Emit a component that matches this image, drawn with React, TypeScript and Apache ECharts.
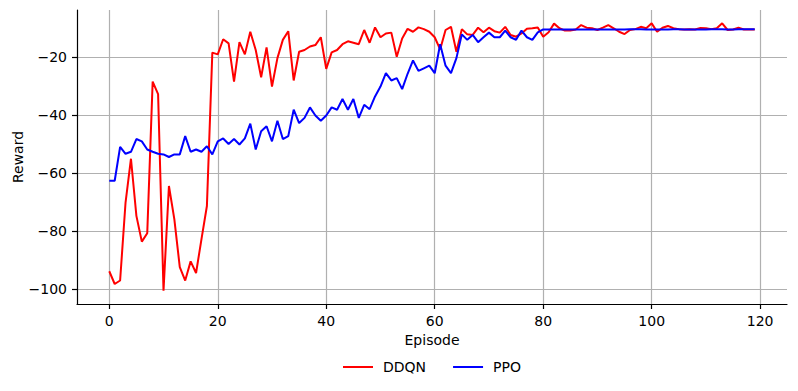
import React, { useEffect, useRef } from "react";
import * as echarts from "echarts";

const xTicks = [0, 20, 40, 60, 80, 100, 120];
const yTicks = [-100, -80, -60, -40, -20];

const ddqn = [
  -93.8, -98.2, -97.0, -70.1, -55.0, -74.7, -83.6, -80.7, -28.4, -32.7,
  -100.5, -64.4, -75.9, -92.4, -97.0, -90.4, -94.4, -82.7, -71.3, -18.4,
  -19.0, -13.8, -15.2, -28.4, -14.8, -19.0, -11.2, -17.5, -26.9, -16.6,
  -30.1, -20.3, -14.0, -11.0, -28.0, -18.1, -17.5, -16.3, -15.8, -13.1,
  -24.0, -18.3, -17.5, -15.5, -14.5, -15.0, -15.5, -10.6, -15.0, -9.7,
  -13.1, -11.8, -11.5, -19.8, -13.5, -10.2, -11.2, -9.7, -10.3, -11.2,
  -13.1, -17.3, -10.6, -9.5, -18.1, -10.3, -12.1, -12.3, -9.8, -11.4,
  -9.8, -11.0, -11.5, -9.5, -12.3, -12.9, -11.8, -10.2, -10.0, -9.7,
  -12.9, -11.4, -8.4, -10.0, -10.8, -10.8, -10.4, -8.9, -9.8, -10.0,
  -10.6, -9.8, -8.9, -10.0, -11.2, -12.0, -10.6, -10.3, -9.5, -10.0,
  -8.3, -11.2, -9.8, -9.2, -10.0, -10.3, -10.4, -10.3, -10.4, -9.9,
  -10.0, -10.3, -10.0, -8.3, -10.6, -10.4, -9.8, -10.4, -10.4, -10.4,
];

const ppo = [
  -62.6, -62.6, -50.9, -53.3, -52.6, -48.2, -49.0, -51.8, -52.6, -53.3,
  -53.5, -54.4, -53.5, -53.5, -47.2, -52.6, -51.8, -52.6, -50.7, -53.5,
  -49.0, -48.0, -49.9, -48.2, -50.1, -48.0, -42.9, -51.8, -45.5, -43.8,
  -49.0, -41.9, -48.2, -47.2, -38.1, -42.7, -40.9, -37.3, -40.1, -41.9,
  -40.1, -37.3, -38.1, -34.4, -38.1, -34.4, -40.9, -36.4, -37.9, -33.5,
  -30.1, -25.5, -28.0, -27.2, -31.0, -25.7, -21.1, -24.7, -23.8, -22.9,
  -25.5, -15.5, -22.9, -25.5, -20.3, -12.1, -14.0, -12.3, -14.8, -13.1,
  -11.5, -13.1, -13.1, -10.8, -13.1, -14.0, -10.8, -13.1, -14.0, -11.4,
  -10.4, -10.4, -10.4, -10.4, -10.4, -10.4, -10.4, -10.4, -10.4, -10.4,
  -10.4, -10.4, -10.4, -10.4, -10.4, -10.4, -10.3, -10.3, -10.3, -10.4,
  -10.4, -10.4, -10.4, -10.4, -10.3, -10.3, -10.4, -10.4, -10.4, -10.4,
  -10.4, -10.3, -10.3, -10.3, -10.4, -10.4, -10.3, -10.3, -10.3, -10.3,
];

const FONT = "DejaVu Sans";
const FS = 14;

export default function App() {
  const ref = useRef<HTMLDivElement>(null);
  useEffect(() => {
    if (!ref.current) return;
    const chart = echarts.init(ref.current, null, { renderer: "svg" });
    const toPairs = (arr: number[]) => arr.map((v, i) => [i, v]);
    const minus = (v: number) => String(v).replace("-", "\u2212");
    chart.setOption({
      animation: false,
      backgroundColor: "#ffffff",
      grid: { left: 77, right: 11, top: 10, bottom: 87, containLabel: false, outerBoundsMode: "none" },
      legend: {
        left: 343,
        top: 360,
        padding: 0,
        icon: "rect",
        itemWidth: 30,
        itemHeight: 2,
        itemGap: 27,
        textStyle: { fontFamily: FONT, fontSize: FS, color: "#000", padding: [0, 0, 0, 5] },
        data: ["DDQN", "PPO"],
      },
      xAxis: {
        type: "value",
        min: -5.95,
        max: 124.95,
        name: "Episode",
        nameLocation: "middle",
        nameGap: 29,
        nameTextStyle: { fontFamily: FONT, fontSize: FS, color: "#000" },
        axisLine: { show: true, onZero: false, lineStyle: { color: "#000", width: 1.2 } },
        axisTick: { show: true, length: 5, customValues: xTicks, lineStyle: { color: "#000", width: 1.2 } },
        axisLabel: { customValues: xTicks, margin: 10, fontFamily: FONT, fontSize: FS, color: "#000" },
        splitLine: { show: true, customValues: xTicks, lineStyle: { color: "#b0b0b0", width: 1.2 } },
      },
      yAxis: {
        type: "value",
        min: -105.1,
        max: -3.7,
        name: "Reward",
        nameLocation: "middle",
        nameGap: 52,
        nameMoveOverlap: false,
        nameTextStyle: { fontFamily: FONT, fontSize: FS, color: "#000" },
        axisLine: { show: true, onZero: false, lineStyle: { color: "#000", width: 1.2 } },
        axisTick: { show: true, length: 5, customValues: yTicks, lineStyle: { color: "#000", width: 1.2 } },
        axisLabel: { customValues: yTicks, margin: 10, fontFamily: FONT, fontSize: FS, color: "#000", formatter: minus },
        splitLine: { show: true, customValues: yTicks, lineStyle: { color: "#b0b0b0", width: 1.2 } },
      },
      series: [
        {
          name: "DDQN",
          type: "line",
          data: toPairs(ddqn),
          symbol: "none",
          lineStyle: { color: "#ff0000", width: 2 },
          itemStyle: { color: "#ff0000" },
        },
        {
          name: "PPO",
          type: "line",
          data: toPairs(ppo),
          symbol: "none",
          lineStyle: { color: "#0000ff", width: 2 },
          itemStyle: { color: "#0000ff" },
        },
      ],
    });
    return () => chart.dispose();
  }, []);
  return (
    <div
      ref={ref}
      style={{ position: "absolute", left: 0, top: 0, width: 798, height: 391 }}
    />
  );
}
